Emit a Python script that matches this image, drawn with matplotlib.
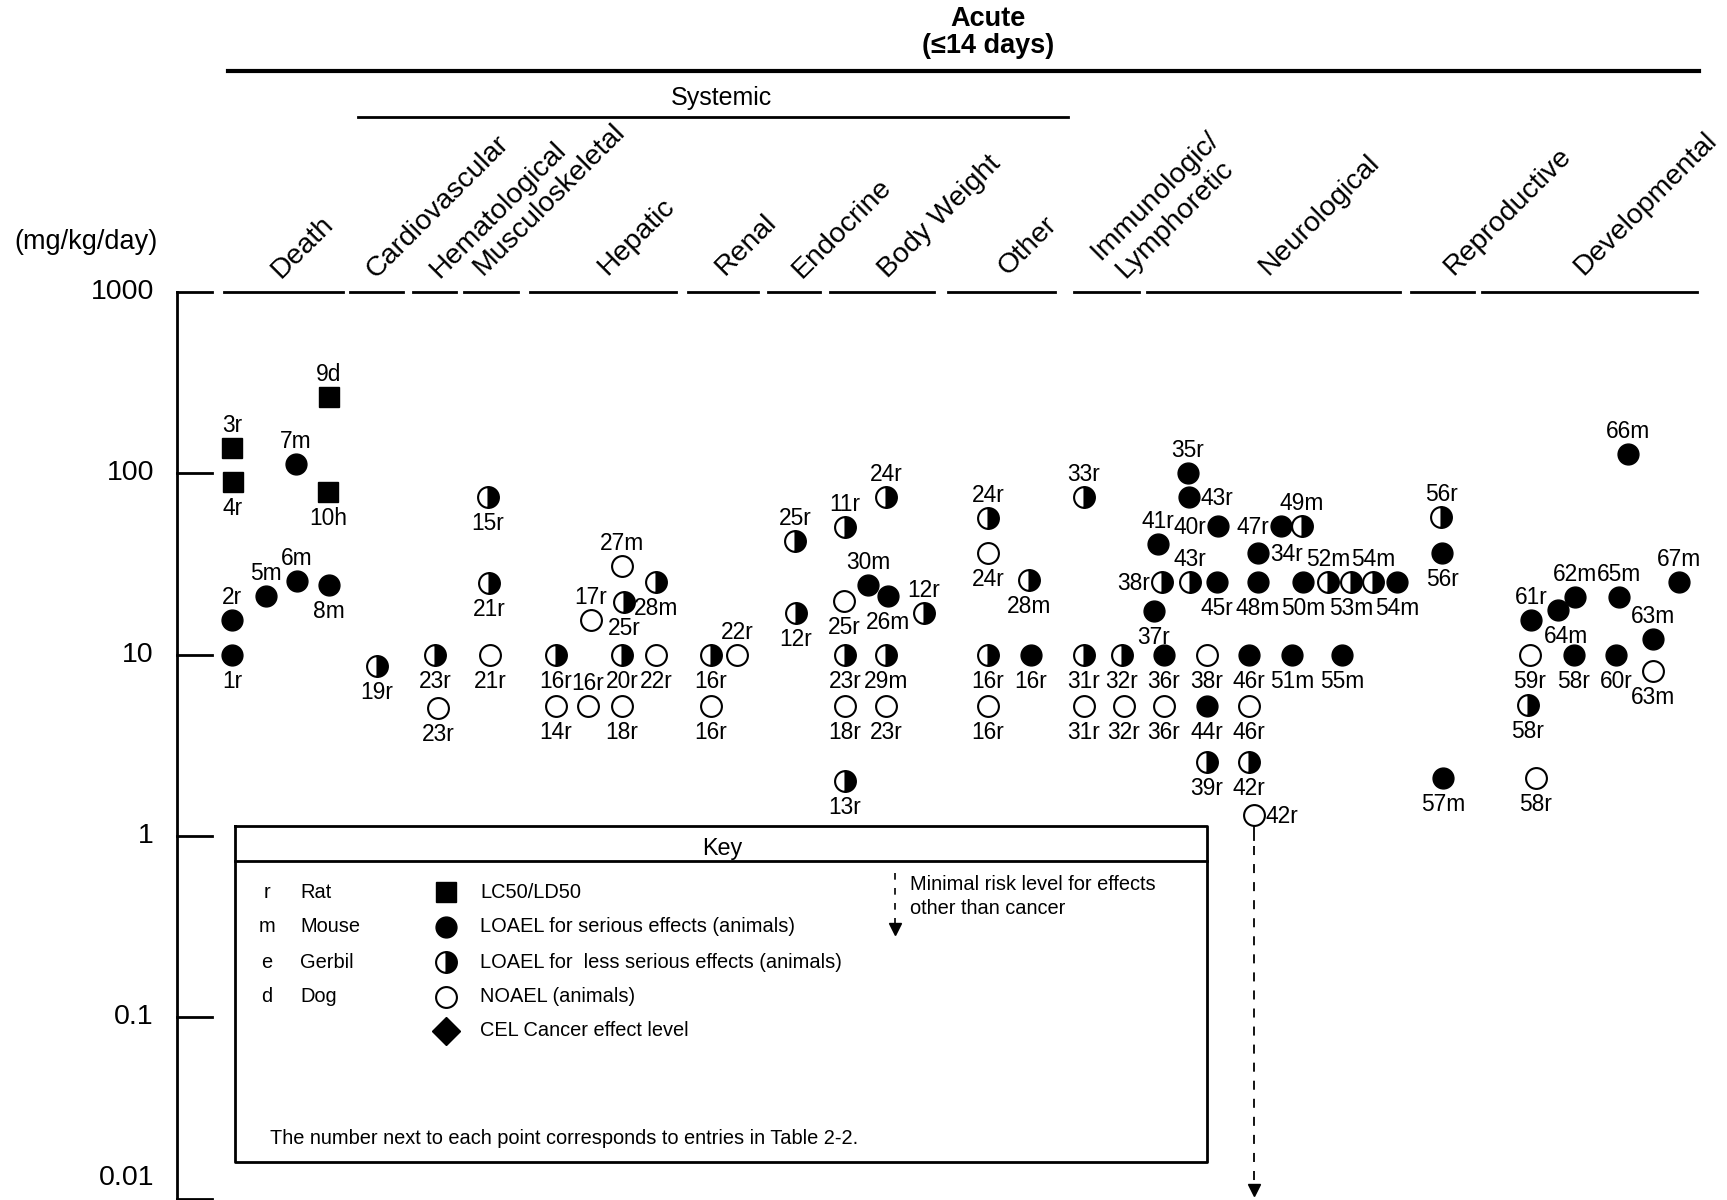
import matplotlib
matplotlib.use("Agg")
import matplotlib.pyplot as plt
import matplotlib.transforms as mtransforms

plt.rcParams['font.family'] = ['Liberation Sans', 'DejaVu Sans']

# ---- data: (label, dose mg/kg/day, kind) ----
# kind: S = LC50/LD50, F = LOAEL serious, H = LOAEL less serious, O = NOAEL
death = [("1r", 10, "F"), ("2r", 15.5, "F"), ("3r", 138, "S"), ("4r", 90, "S"),
         ("5m", 21, "F"), ("6m", 25.4, "F"), ("7m", 112, "F"), ("8m", 24.3, "F"),
         ("9d", 265, "S"), ("10h", 79, "S")]
cardio = [("19r", 8.6, "H")]
hemato = [("23r", 10, "H"), ("23r", 5.1, "O")]
musculo = [("15r", 74, "H"), ("21r", 24.8, "H"), ("21r", 10, "O")]
hepatic = [("16r", 10, "H"), ("14r", 5.2, "O"), ("16r", 5.2, "O"), ("20r", 10, "H"),
           ("18r", 5.2, "O"), ("22r", 10, "O"), ("17r", 15.5, "O"), ("25r", 19.6, "H"),
           ("27m", 30.8, "O"), ("28m", 25.1, "H")]
renal = [("16r", 10, "H"), ("22r", 10, "O"), ("16r", 5.2, "O")]
endocrine = [("25r", 42.5, "H"), ("12r", 16.9, "H")]
bodyweight = [("11r", 50.4, "H"), ("24r", 74.3, "H"), ("30m", 24.2, "F"), ("26m", 21.1, "F"),
              ("25r", 19.8, "O"), ("12r", 16.9, "H"), ("23r", 10, "H"), ("29m", 10, "H"),
              ("18r", 5.2, "O"), ("23r", 5.2, "O"), ("13r", 2.0, "H")]
other = [("24r", 56.5, "H"), ("24r", 36.2, "O"), ("28m", 25.8, "H"), ("16r", 10, "H"),
         ("16r", 10, "F"), ("16r", 5.2, "O")]
immuno = [("33r", 74, "H"), ("31r", 10, "H"), ("31r", 5.2, "O"), ("32r", 10, "H"),
          ("32r", 5.2, "O")]
neuro = [("35r", 100, "F"), ("43r", 74, "F"), ("41r", 41, "F"), ("40r", 51, "F"),
         ("47r", 51, "F"), ("49m", 51, "H"), ("34r", 36.5, "F"), ("38r", 25.2, "H"),
         ("43r", 25.2, "H"), ("45r", 25.2, "F"), ("48m", 25.2, "F"), ("50m", 25.2, "F"),
         ("52m", 25.2, "H"), ("53m", 25.2, "H"), ("54m", 25.2, "H"), ("54m", 25.2, "F"),
         ("37r", 17.3, "F"), ("36r", 10, "F"), ("38r", 10, "O"), ("46r", 10, "F"),
         ("51m", 10, "F"), ("55m", 10, "F"), ("36r", 5.2, "O"), ("44r", 5.2, "F"),
         ("46r", 5.2, "O"), ("39r", 2.56, "H"), ("42r", 2.56, "H"), ("42r", 1.3, "O")]
repro = [("56r", 57.7, "H"), ("56r", 36.5, "F"), ("57m", 2.08, "F")]
devel = [("66m", 128, "F"), ("67m", 25, "F"), ("62m", 20.8, "F"), ("65m", 20.8, "F"),
         ("64m", 17.6, "F"), ("61r", 15.5, "F"), ("63m", 12.2, "F"), ("59r", 10, "O"),
         ("58r", 10, "F"), ("60r", 10, "F"), ("63m", 8.1, "O"), ("58r", 5.3, "H"),
         ("58r", 2.08, "O")]

# ---- layout: column position (px) and where the label sits ----
death_at = [(232, "b"), (232, "a"), (232, "a"), (233, "b"), (266, "a"), (297, "a"),
            (296, "a"), (329, "b"), (329, "a"), (328, "b")]
cardio_at = [(377, "b")]
hemato_at = [(435, "b"), (438, "b")]
musculo_at = [(488, "b"), (489, "b"), (490, "b")]
hepatic_at = [(556, "b"), (556, "b"), (588, "a"), (622, "b"), (622, "b"), (656, "b"),
              (591, "a"), (624, "b"), (622, "a"), (656, "b")]
renal_at = [(711, "b"), (737, "a"), (711, "b")]
endocrine_at = [(795, "a"), (796, "b")]
bodyweight_at = [(845, "a"), (886, "a"), (868, "a"), (888, "b"), (844, "b"), (924, "a"),
                 (845, "b"), (886, "b"), (845, "b"), (886, "b"), (845, "b")]
other_at = [(988, "a"), (988, "b"), (1029, "b"), (988, "b"), (1031, "b"), (988, "b")]
immuno_at = [(1084, "a"), (1084, "b"), (1084, "b"), (1122, "b"), (1124, "b")]
neuro_at = [(1188, "a"), (1189, "r"), (1158, "a"), (1218, "l"), (1281, "l"), (1302, "a"),
            (1258, "r"), (1162, "l"), (1190, "a"), (1217, "b"), (1258, "b"), (1303, "b"),
            (1328, "a"), (1351, "b"), (1373, "a"), (1397, "b"), (1154, "b"), (1164, "b"),
            (1207, "b"), (1249, "b"), (1292, "b"), (1342, "b"), (1164, "b"), (1207, "b"),
            (1249, "b"), (1207, "b"), (1249, "b"), (1254, "r")]
repro_at = [(1441, "a"), (1442, "b"), (1443, "b")]
devel_at = [(1628, "a"), (1679, "a"), (1575, "a"), (1619, "a"), (1558, "br"), (1531, "a"),
            (1653, "a"), (1530, "b"), (1574, "b"), (1616, "b"), (1653, "b"), (1528, "b"),
            (1536, "b")]

groups = [(death, death_at), (cardio, cardio_at), (hemato, hemato_at),
          (musculo, musculo_at), (hepatic, hepatic_at), (renal, renal_at),
          (endocrine, endocrine_at), (bodyweight, bodyweight_at), (other, other_at),
          (immuno, immuno_at), (neuro, neuro_at), (repro, repro_at), (devel, devel_at)]

# category header text, start point of rotated label, and span of the dash at 1000
cat_names = ["Death", "Cardiovascular", "Hematological", "Musculoskeletal", "Hepatic",
             "Renal", "Endocrine", "Body Weight", "Other", "Immunologic/", "Lymphoretic",
             "Neurological", "Reproductive", "Developmental"]
cat_start = [(281, 279), (376, 279), (439, 279), (483, 276), (607, 276), (725, 276),
             (802, 279), (888, 279), (1008, 276), (1100, 261), (1125, 279), (1268, 276),
             (1453, 276), (1583, 276)]
cat_spans = [(224, 343), (350, 403), (413, 456), (464, 518), (530, 676), (688, 758),
             (768, 820), (830, 934), (948, 1055), (1074, 1139), (1147, 1400),
             (1411, 1474), (1482, 1697)]

yticks = [1000, 100, 10, 1, 0.1, 0.01]
ytick_labels = ["1000", "100", "10", "1", "0.1", "0.01"]

key_species = [("r", "Rat"), ("m", "Mouse"), ("e", "Gerbil"), ("d", "Dog")]
key_symbols = [("S", "LC50/LD50"), ("F", "LOAEL for serious effects (animals)"),
               ("H", "LOAEL for  less serious effects (animals)"), ("O", "NOAEL (animals)"),
               ("D", "CEL Cancer effect level")]
mrl_start = 1.3   # MRL arrow hangs below the 42r NOAEL

# ---- figure ----
W, H = 1727, 1200
TOP_PX, DEC_PX = 292, 181.3   # 1000 at 292 px, one decade = 181.3 px


def px2val(p):
    return 10 ** (3 - (p - TOP_PX) / DEC_PX)


fig = plt.figure(figsize=(W / 100, H / 100), dpi=100)
ax = fig.add_axes([0, 0, 1, 1])
ax.set_xlim(0, W)
ax.set_yscale('log')
ax.set_ylim(px2val(H), px2val(0))
ax.axis('off')

pix = mtransforms.Affine2D().scale(1 / W, -1 / H).translate(0, 1) + fig.transFigure

styles = {
    "S": dict(marker="s", ms=14, mfc="black", mec="black"),
    "F": dict(marker="o", ms=15, mfc="black", mec="black"),
    "H": dict(marker="o", ms=15, fillstyle="right", mfc="black", mfcalt="white",
              mec="black", mew=1.5),
    "O": dict(marker="o", ms=15, mfc="white", mec="black", mew=1.5),
    "D": dict(marker="D", ms=14, mfc="black", mec="black"),
}
offsets = {"a": ((0, 16), "center"), "b": ((0, -33), "center"),
           "br": ((8, -33), "center"), "l": ((-12, -8), "right"), "r": ((12, -8), "left")}

# y axis
ax.plot([177, 177], [1000, px2val(H)], color="black", lw=2, clip_on=False)
for v, t in zip(yticks, ytick_labels):
    ax.plot([177, 212], [v, v], color="black", lw=2)
    ax.text(154, max(v, px2val(1178)), t, ha="right", va="center", fontsize=20.5)
ax.text(86, 242, "(mg/kg/day)", transform=pix, ha="center", va="center", fontsize=19.5)

# dashes along 1000 and the rotated category headers
for x0, x1 in cat_spans:
    ax.plot([x0, x1], [1000, 1000], color="black", lw=2)
for name, (sx, sy) in zip(cat_names, cat_start):
    ax.text(sx, sy, name, transform=pix, rotation=45, rotation_mode="anchor",
            ha="left", va="baseline", fontsize=20.5)

# group headers
ax.plot([228, 1699], [71, 71], transform=pix, color="black", lw=3, clip_on=False)
ax.plot([358, 1068], [117, 117], transform=pix, color="black", lw=2, clip_on=False)
ax.text(988, 19, "Acute", transform=pix, ha="center", va="center", fontsize=19.5,
        fontweight="bold")
ax.text(988, 46, "(\u226414 days)", transform=pix, ha="center", va="center",
        fontsize=19.5, fontweight="bold")
ax.text(721, 98, "Systemic", transform=pix, ha="center", va="center", fontsize=18)

# points
for pts, at in groups:
    for (lbl, dose, kind), (x, side) in zip(pts, at):
        ax.plot([x], [dose], linestyle="none", zorder=3, **styles[kind])
        off, ha = offsets[side]
        ax.annotate(lbl, (x, dose), xytext=off, textcoords="offset pixels",
                    ha=ha, va="baseline", fontsize=16.4)

# minimal risk level arrow: short solid stem, then dashed down the page
ax.plot([1254, 1254], [mrl_start, px2val(840)], color="black", lw=1.3, zorder=2)
ax.plot([1254, 1254], [px2val(846), px2val(1186)], color="black", lw=1.3,
        dashes=(5, 5))
ax.plot([1254], [px2val(1190)], marker="v", ms=8, color="black")

# key box
bx0, by0, bx1, by1 = 235, 826, 1207, 1162
ax.plot([bx0, bx1, bx1, bx0, bx0], [by0, by0, by1, by1, by0], transform=pix,
        color="black", lw=2)
ax.plot([bx0, bx1], [861, 861], transform=pix, color="black", lw=2)
ax.text(722, 848, "Key", transform=pix, ha="center", va="center", fontsize=16.8)
row_y = [892, 927, 962, 997, 1031]
for (ab, name), yy in zip(key_species, row_y):
    ax.text(267, yy, ab, transform=pix, ha="center", va="center", fontsize=14.4)
    ax.text(300, yy, name, transform=pix, ha="left", va="center", fontsize=14.4)
for (kind, txt), yy in zip(key_symbols, row_y):
    ax.plot([446], [yy], transform=pix, linestyle="none", **styles[kind])
    ax.text(480, yy, txt, transform=pix, ha="left", va="center", fontsize=14.4)
ax.plot([895, 895], [873, 924], transform=pix, color="black", lw=1.2, dashes=(4, 5))
ax.plot([895], [929], transform=pix, marker="v", ms=9, color="black")
ax.text(910, 884, "Minimal risk level for effects", transform=pix, ha="left",
        va="center", fontsize=14.4)
ax.text(910, 909, "other than cancer", transform=pix, ha="left", va="center",
        fontsize=14.4)
ax.text(270, 1138, "The number next to each point corresponds to entries in Table 2-2.",
        transform=pix, ha="left", va="center", fontsize=14.4)

fig.savefig("out.png", dpi=100)
